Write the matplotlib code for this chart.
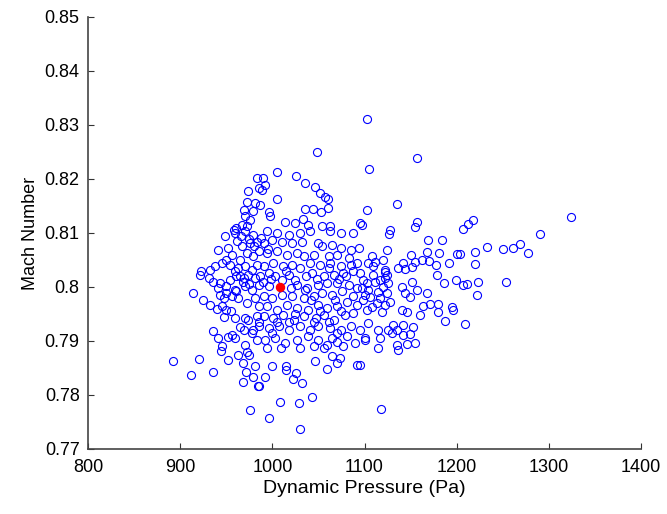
import numpy as np
import matplotlib.pyplot as plt

# dynamic pressure (Pa) / Mach number samples
q_pa = [
    # dense core 987-1094
    994, 1005, 1018, 1030, 1041, 1063, 1074, 1088,
    991, 1000, 1011, 1021, 1032, 1050, 1054, 1065, 1074, 1085, 1094,
    994, 1005, 1016, 1027, 1034, 1045, 1061, 1070, 1083, 1092,
    991, 1001, 1012, 1021, 1030, 1041, 1052, 1063, 1074, 1085,
    987, 996, 1003, 1018, 1025, 1036, 1043, 1056, 1067, 1077, 1088,
    996, 1020, 1027, 1038, 1050, 1059, 1070, 1083, 1092,
    991, 1000, 1011, 1021, 1034, 1045, 1054, 1065, 1076, 1087,
    994, 1005, 1016, 1027, 1039, 1050, 1059, 1070, 1081, 1092,
    991, 1001, 1012, 1023, 1034, 1047, 1056, 1067, 1079, 1088,
    996, 1007, 1018, 1030, 1041, 1050, 1063, 1074, 1085,
    992, 1003, 1014, 1027, 1039, 1050, 1059, 1070, 1081, 1090,
    994, 1009, 1030, 1045, 1056, 1077,
    # extra points in the crowded middle
    958, 962, 966, 975, 980, 988, 995, 960, 965, 968, 975, 990, 998, 1010, 1015,
    1048, 1062, 1072, 1080, 1068, 1075, 1062, 1070, 1065, 1052, 1045, 1025, 1018,
    1005, 1000, 985, 978, 965, 960, 972, 955, 948, 940, 1035, 1042,
    # left part 914-985
    949, 959, 970, 979, 976, 983,
    941, 952, 956, 967, 972, 965, 979, 985,
    923, 921, 932, 938, 945, 950, 954, 963, 970, 978, 983,
    931, 936, 943, 954, 961, 969, 974, 981,
    941, 950, 959, 970, 978, 985,
    914, 925, 932, 943, 947, 950, 956, 961, 963, 945, 950, 972, 981, 985,
    959, 970, 974, 983, 985,
    936, 941, 952, 956, 969, 979, 970, 945, 983,
    # upper left
    983, 985, 974, 972, 981, 969, 979, 970, 976, 967, 961, 972,
    # upper middle
    1048, 1005, 1026, 1035, 1046, 1052, 1057, 1060, 1060, 1044, 1035, 1053,
    1005, 990, 992, 989, 987, 996, 997, 1014, 1025, 1033, 1039, 1054, 1063, 1095,
    1103, 1157, 1105, 1103, 1135, 1157, 1155, 1097, 1128,
    # right side
    1218, 1212, 1207, 1324, 1290,
    1204, 1220, 1233, 1250, 1261, 1269, 1277, 1220, 1207, 1211, 1223, 1222, 1254, 1209,
    1127, 1169, 1184, 1200, 1168, 1181, 1124, 1108, 1150, 1162, 1170, 1155, 1142, 1120,
    1111, 1104, 1109, 1192, 1178, 1136, 1144, 1151, 1122, 1109, 1124, 1179, 1186, 1199,
    1151, 1141, 1157, 1144, 1149, 1168, 1171, 1163, 1180, 1195, 1196, 1180, 1160, 1146,
    1187, 1153, 1142, 1131, 1135, 1142, 1149, 1155, 1146, 1135, 1125, 1130, 1115, 1117,
    1100, 1104,
    1098, 1103, 1097, 1104, 1100, 1106, 1098, 1111, 1117, 1122, 1125, 1120, 1115, 1124,
    1117, 1114, 1122, 1108, 1103, 1119, 1128, 1095, 1122, 1141, 1100, 1115, 1095,
    # lower part
    892, 920, 912, 936, 944, 952, 963, 968, 975, 971, 981, 979, 968, 984, 976,
    1000, 992, 986, 1015, 1015, 1026, 1022, 1032, 1008, 1029, 1043, 996, 1030,
    1046, 1059, 1070, 1065, 1073, 1092,
    1095, 1136, 1118,
]
mach = [
    0.8103, 0.8100, 0.8097, 0.8100, 0.8103, 0.8103, 0.8100, 0.8100,
    0.8081, 0.8087, 0.8084, 0.8081, 0.8084, 0.8081, 0.8075, 0.8078, 0.8072, 0.8069, 0.8072,
    0.8063, 0.8066, 0.8060, 0.8063, 0.8057, 0.8060, 0.8057, 0.8060, 0.8054, 0.8044,
    0.8038, 0.8044, 0.8038, 0.8041, 0.8035, 0.8044, 0.8041, 0.8044, 0.8038, 0.8041,
    0.8020, 0.8026, 0.8020, 0.8023, 0.8013, 0.8020, 0.8026, 0.8020, 0.8023, 0.8026, 0.8029,
    0.8001, 0.7998, 0.8004, 0.7998, 0.8004, 0.8007, 0.8007, 0.8004, 0.7998,
    0.7983, 0.7980, 0.7986, 0.7983, 0.7980, 0.7983, 0.7989, 0.7986, 0.7992, 0.7983,
    0.7964, 0.7958, 0.7967, 0.7961, 0.7958, 0.7967, 0.7961, 0.7964, 0.7973, 0.7967,
    0.7946, 0.7943, 0.7949, 0.7939, 0.7946, 0.7943, 0.7949, 0.7939, 0.7949, 0.7952,
    0.7924, 0.7927, 0.7921, 0.7927, 0.7921, 0.7927, 0.7924, 0.7921, 0.7927,
    0.7902, 0.7905, 0.7896, 0.7902, 0.7909, 0.7902, 0.7893, 0.7899, 0.7909, 0.7896,
    0.7887, 0.7887, 0.7887, 0.7890, 0.7887, 0.7890,
    0.8105, 0.8085, 0.8095, 0.8088, 0.8075, 0.8090, 0.8070, 0.8030, 0.8020, 0.8010, 0.8005, 0.8010, 0.8015, 0.8012, 0.8030,
    0.8015, 0.8035, 0.8015, 0.8020, 0.7975, 0.7955, 0.7935, 0.7915, 0.7905, 0.7955, 0.7935, 0.7950, 0.7935,
    0.7935, 0.7915, 0.7935, 0.7915, 0.7925, 0.7905, 0.7880, 0.7955, 0.7945, 0.7960, 0.7995, 0.7975,
    0.8094, 0.8100, 0.8103, 0.8097, 0.8081, 0.8084,
    0.8069, 0.8072, 0.8060, 0.8075, 0.8063, 0.8050, 0.8057, 0.8066,
    0.8029, 0.8023, 0.8032, 0.8038, 0.8044, 0.8050, 0.8041, 0.8035, 0.8038, 0.8032, 0.8041,
    0.8017, 0.8010, 0.8007, 0.8013, 0.8020, 0.8017, 0.8023, 0.8017,
    0.7998, 0.8001, 0.7995, 0.8001, 0.7995, 0.8004,
    0.7989, 0.7976, 0.7967, 0.7986, 0.7980, 0.7989, 0.7983, 0.7992, 0.7980, 0.7964, 0.7958, 0.7970, 0.7980, 0.7964,
    0.7942, 0.7942, 0.7939, 0.7946, 0.7927,
    0.7918, 0.7905, 0.7908, 0.7911, 0.7921, 0.7921, 0.7893, 0.7890, 0.7902,
    0.8202, 0.8183, 0.8177, 0.8158, 0.8155, 0.8143, 0.8140, 0.8131, 0.8124, 0.8115, 0.8109, 0.8112,
    0.8250, 0.8213, 0.8206, 0.8193, 0.8185, 0.8174, 0.8167, 0.8163, 0.8146, 0.8144, 0.8144, 0.8139,
    0.8163, 0.8202, 0.8189, 0.8180, 0.8152, 0.8139, 0.8131, 0.8120, 0.8119, 0.8126, 0.8115, 0.8113, 0.8113, 0.8119,
    0.8311, 0.8239, 0.8219, 0.8143, 0.8154, 0.8120, 0.8111, 0.8115, 0.8105,
    0.8124, 0.8116, 0.8107, 0.8130, 0.8098,
    0.8061, 0.8065, 0.8074, 0.8070, 0.8072, 0.8080, 0.8063, 0.8043, 0.8004, 0.8006, 0.8009, 0.7985, 0.8009, 0.7931,
    0.8098, 0.8087, 0.8087, 0.8061, 0.8065, 0.8063, 0.8069, 0.8057, 0.8059, 0.8050, 0.8048, 0.8046, 0.8044, 0.8050,
    0.8046, 0.8044, 0.8039, 0.8044, 0.8041, 0.8035, 0.8033, 0.8037, 0.8031, 0.8022, 0.8022, 0.8022, 0.8007, 0.8013,
    0.8009, 0.8000, 0.7994, 0.7989, 0.7981, 0.7989, 0.7969, 0.7965, 0.7969, 0.7963, 0.7957, 0.7954, 0.7948, 0.7954,
    0.7937, 0.7926, 0.7930, 0.7930, 0.7920, 0.7911, 0.7913, 0.7896, 0.7894, 0.7893, 0.7920, 0.7915, 0.7920, 0.7906,
    0.7906, 0.7933,
    0.8013, 0.8007, 0.7998, 0.7994, 0.7985, 0.7981, 0.7976, 0.8009, 0.8013, 0.8017, 0.8007, 0.8000, 0.7991, 0.7989,
    0.7980, 0.7970, 0.7967, 0.7963, 0.7957, 0.7954, 0.7972, 0.8026, 0.8028, 0.7957, 0.7902, 0.7887, 0.7920,
    0.7863, 0.7867, 0.7837, 0.7843, 0.7881, 0.7865, 0.7874, 0.7859, 0.7874, 0.7843, 0.7854, 0.7833, 0.7824, 0.7817, 0.7772,
    0.7854, 0.7833, 0.7817, 0.7854, 0.7846, 0.7841, 0.7830, 0.7822, 0.7787, 0.7785, 0.7796, 0.7757, 0.7737,
    0.7863, 0.7848, 0.7859, 0.7872, 0.7869, 0.7856,
    0.7856, 0.7883, 0.7774,
]

# nominal point (red)
q_nom = [1008]
mach_nom = [0.800]

x_ticks = [800, 900, 1000, 1100, 1200, 1300, 1400]
y_ticks = [0.77, 0.78, 0.79, 0.80, 0.81, 0.82, 0.83, 0.84, 0.85]
y_labels = ['0.77', '0.78', '0.79', '0.8', '0.81', '0.82', '0.83', '0.84', '0.85']

plt.rcParams['font.family'] = ['Liberation Sans', 'DejaVu Sans']

fig = plt.figure(figsize=(6.67, 5.14), dpi=100)
ax = fig.add_axes([0.132, 0.1265, 0.829, 0.8405])

ax.plot(q_pa, mach, 'o', mfc='none', mec=(0, 0, 1), ms=5.8, mew=0.8)
ax.plot(q_nom, mach_nom, 'o', mfc='red', mec='red', ms=5.8)

ax.set_xlim(800, 1400)
ax.set_ylim(0.77, 0.85)
ax.set_xticks(x_ticks)
ax.set_yticks(y_ticks)
ax.set_yticklabels(y_labels)
ax.tick_params(direction='in', labelsize=13, length=4, colors='#333333', labelcolor='black')
ax.tick_params(axis='x', pad=7)
ax.tick_params(axis='y', pad=6)
for s in ['top', 'right']:
    ax.spines[s].set_visible(False)
for s in ['left', 'bottom']:
    ax.spines[s].set_color('#444444')
    ax.spines[s].set_linewidth(1.2)

ax.set_xlabel('Dynamic Pressure (Pa)', fontsize=14, labelpad=3)
ax.set_ylabel('Mach Number', fontsize=13)

fig.savefig('out.png', dpi=100)
